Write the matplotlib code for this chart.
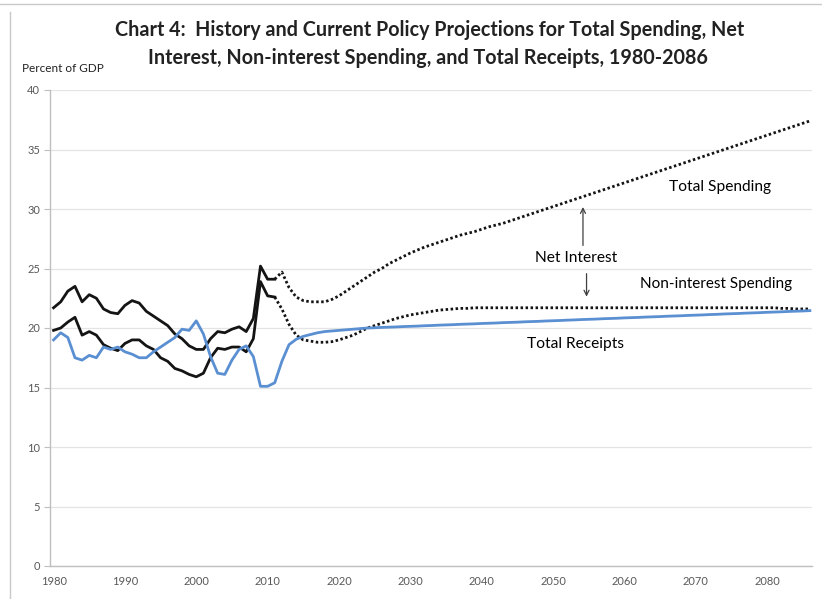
import matplotlib
matplotlib.use('Agg')
import matplotlib.pyplot as plt
from matplotlib.lines import Line2D

plt.rcParams.update({
    'font.family': ['Lato', 'DejaVu Sans'],
    'font.size': 9,
})

# ---- data (percent of GDP) ----
hist_years = list(range(1980, 2012))
proj_years = list(range(2011, 2087))
rcpt_proj_years = list(range(2012, 2087))

total_hist = [21.7, 22.2, 23.1, 23.5, 22.2, 22.8, 22.5, 21.6, 21.3, 21.2,
              21.9, 22.3, 22.1, 21.4, 21.0, 20.6, 20.2, 19.5, 19.1, 18.5,
              18.2, 18.2, 19.1, 19.7, 19.6, 19.9, 20.1, 19.7, 20.8, 25.2,
              24.1, 24.1]
nonint_hist = [19.8, 20.0, 20.5, 20.9, 19.4, 19.7, 19.4, 18.6, 18.3, 18.1,
               18.7, 19.0, 19.0, 18.5, 18.2, 17.5, 17.2, 16.6, 16.4, 16.1,
               15.9, 16.2, 17.5, 18.3, 18.2, 18.4, 18.4, 18.0, 19.1, 23.9,
               22.7, 22.6]
rcpt_hist = [19.0, 19.6, 19.2, 17.5, 17.3, 17.7, 17.5, 18.4, 18.2, 18.4,
             18.0, 17.8, 17.5, 17.5, 18.0, 18.4, 18.8, 19.2, 19.9, 19.8,
             20.6, 19.5, 17.6, 16.2, 16.1, 17.3, 18.2, 18.5, 17.6, 15.1,
             15.1, 15.4]

# current policy projections, 2011-2086
total_proj = [24.1, 24.7, 23.4, 22.6, 22.3, 22.2, 22.2, 22.2, 22.4, 22.7,
              23.1, 23.5, 23.9, 24.3, 24.7, 25.0, 25.4, 25.7, 26.0, 26.3,
              26.55, 26.8, 27.0, 27.2, 27.4, 27.6, 27.8, 27.95, 28.1, 28.3,
              28.5, 28.65, 28.8, 29.0, 29.2, 29.4, 29.6, 29.8, 30.0, 30.2,
              30.4, 30.6, 30.8, 31.0, 31.2, 31.4, 31.6, 31.8, 32.0, 32.2,
              32.4, 32.6, 32.8, 33.0, 33.2, 33.4, 33.6, 33.8, 34.0, 34.2,
              34.4, 34.6, 34.8, 35.0, 35.2, 35.4, 35.6, 35.8, 36.0, 36.2,
              36.4, 36.6, 36.8, 37.0, 37.2, 37.4]
nonint_proj = [22.6, 21.6, 20.3, 19.4, 19.0, 18.9, 18.8, 18.8, 18.85, 19.0,
               19.2, 19.4, 19.7, 20.0, 20.2, 20.4, 20.6, 20.8, 20.95, 21.1,
               21.2, 21.3, 21.4, 21.5, 21.55, 21.6, 21.65, 21.65, 21.7, 21.7,
               21.7, 21.7, 21.7, 21.7, 21.7, 21.7, 21.7, 21.7, 21.7, 21.7,
               21.7, 21.7, 21.7, 21.7, 21.7, 21.7, 21.7, 21.7, 21.7, 21.7,
               21.7, 21.7, 21.7, 21.7, 21.7, 21.7, 21.7, 21.7, 21.7, 21.7,
               21.7, 21.7, 21.7, 21.7, 21.7, 21.7, 21.7, 21.7, 21.7, 21.7,
               21.7, 21.65, 21.65, 21.6, 21.6, 21.6]
# receipts, 2012-2086
rcpt_proj = [17.2, 18.6, 19.05, 19.3, 19.45, 19.6, 19.7, 19.75, 19.8, 19.85,
             19.9, 19.95, 20.00, 20.02, 20.05, 20.07, 20.09, 20.12, 20.14, 20.16,
             20.19, 20.21, 20.24, 20.26, 20.28, 20.31, 20.33, 20.35, 20.38, 20.40,
             20.42, 20.45, 20.47, 20.49, 20.52, 20.54, 20.56, 20.59, 20.61, 20.63,
             20.66, 20.68, 20.71, 20.73, 20.75, 20.78, 20.80, 20.82, 20.85, 20.87,
             20.89, 20.92, 20.94, 20.96, 20.99, 21.01, 21.03, 21.06, 21.08, 21.10,
             21.13, 21.15, 21.18, 21.20, 21.22, 21.25, 21.27, 21.29, 21.32, 21.34,
             21.36, 21.39, 21.41, 21.43, 21.46]

x_ticks = list(range(1980, 2081, 10))
y_ticks = list(range(0, 41, 5))

BLACK = '#141414'
BLUE = '#5a8fd2'
GREY_TXT = '#595959'

fig = plt.figure(figsize=(8.22, 5.99), dpi=100)
ax = fig.add_axes([50 / 822, 1 - 566 / 599, 762 / 822, 476 / 599])

dot = (0, (0.9, 0.9))
ax.plot(hist_years, total_hist, color=BLACK, lw=2.0, solid_joinstyle='round')
ax.plot(hist_years, nonint_hist, color=BLACK, lw=2.0, solid_joinstyle='round')
ax.plot(proj_years, total_proj, color=BLACK, lw=2.0, linestyle=dot)
ax.plot(proj_years, nonint_proj, color=BLACK, lw=2.0, linestyle=dot)
ax.plot(hist_years + rcpt_proj_years, rcpt_hist + rcpt_proj, color=BLUE,
        lw=2.0, solid_joinstyle='round')

ax.set_xlim(1979.5, 2086.3)
ax.set_ylim(0, 40)
ax.set_xticks(x_ticks)
ax.set_yticks(y_ticks)
ax.tick_params(axis='x', length=0, pad=7, labelsize=8, labelcolor=GREY_TXT)
ax.tick_params(axis='y', length=4, color='#bfbfbf', pad=3, labelsize=8,
               labelcolor=GREY_TXT)
ax.grid(axis='y', color='#e4e4e4', lw=0.9)
ax.set_axisbelow(True)
for s in ('top', 'right'):
    ax.spines[s].set_visible(False)
for s in ('left', 'bottom'):
    ax.spines[s].set_color('#bfbfbf')
    ax.spines[s].set_linewidth(1.0)

# labels and arrows
ax.text(2073.4, 31.85, 'Total Spending', ha='center', va='center', fontsize=11.2)
ax.text(2053.2, 25.9, 'Net Interest', ha='center', va='center', fontsize=11.2)
ax.text(2072.8, 23.7, 'Non-interest Spending', ha='center', va='center',
        fontsize=11)
ax.text(2053.1, 18.65, 'Total Receipts', ha='center', va='center', fontsize=11.2)
arrow = dict(arrowstyle='->', color='#404040', lw=0.9)
ax.annotate('', xy=(2054.2, 30.4), xytext=(2054.2, 26.7), arrowprops=arrow)
ax.annotate('', xy=(2054.7, 22.4), xytext=(2054.7, 24.8), arrowprops=arrow)

# title block
fig.text(430 / 822, 1 - 30 / 599,
         'Chart 4:  History and Current Policy Projections for Total Spending, Net',
         ha='center', va='center', fontsize=14.2, fontweight='bold', color='#222222')
fig.text(428 / 822, 1 - 58 / 599,
         'Interest, Non-interest Spending, and Total Receipts, 1980-2086',
         ha='center', va='center', fontsize=14.2, fontweight='bold', color='#222222')
fig.text(22 / 822, 1 - 68 / 599, 'Percent of GDP', ha='left', va='center',
         fontsize=8.5, color='#222222')

# faint frame of the source screenshot
fig.add_artist(Line2D([0, 1], [1 - 4 / 599, 1 - 4 / 599], color='#c8c8c8', lw=1.0))
fig.add_artist(Line2D([10 / 822, 10 / 822], [0, 1 - 12 / 599], color='#c8c8c8', lw=1.0))

fig.savefig('out.png', dpi=100)
plt.close(fig)
